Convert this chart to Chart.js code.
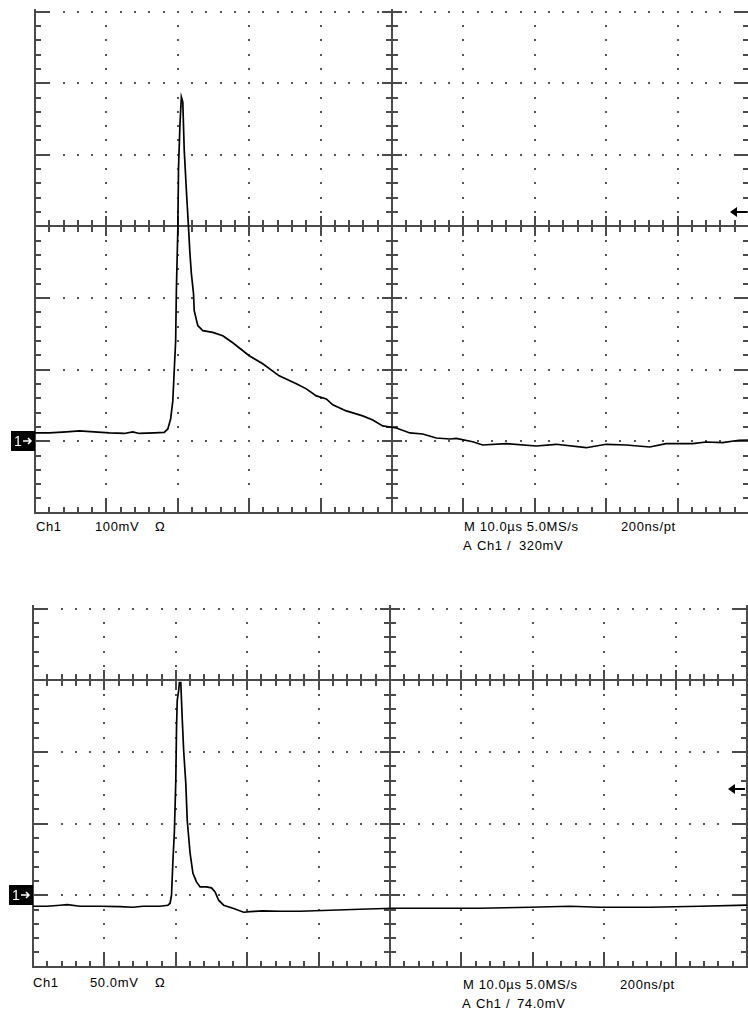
<!DOCTYPE html>
<html>
<head>
<meta charset="utf-8">
<script src="https://cdn.jsdelivr.net/npm/chart.js@4/dist/chart.umd.min.js"></script>
<style>
  html, body { margin: 0; padding: 0; background: #fff; }
  body { width: 748px; height: 1010px; position: relative; overflow: hidden; }
  .shot { position: absolute; left: 0; width: 748px; overflow: hidden; }
  .shot canvas { position: absolute; left: 0; }
  .lbl { position: absolute; font: 13px "Liberation Sans", Arial, sans-serif; letter-spacing: 0.6px; line-height: 14px; color: #000; white-space: pre; }
</style>
</head>
<body>
<div class="shot" id="shot1"><canvas id="scope1"></canvas></div>
<div class="shot" id="shot2"><canvas id="scope2"></canvas></div>

<!-- readout, upper capture -->
<div class="lbl" style="left:36px;top:520px">Ch1</div>
<div class="lbl" style="left:95px;top:520px">100mV</div>
<div class="lbl" style="left:155px;top:520px">Ω</div>
<div class="lbl" style="left:464px;top:520px">M 10.0µs 5.0MS/s</div>
<div class="lbl" style="left:621px;top:520px">200ns/pt</div>
<div class="lbl" style="left:463px;top:539px">A</div>
<div class="lbl" style="left:477px;top:539px">Ch1</div>
<div class="lbl" style="left:507px;top:539px">/</div>
<div class="lbl" style="left:519px;top:539px">320mV</div>

<!-- readout, lower capture -->
<div class="lbl" style="left:33px;top:976px">Ch1</div>
<div class="lbl" style="left:90px;top:976px">50.0mV</div>
<div class="lbl" style="left:155px;top:976px">Ω</div>
<div class="lbl" style="left:463px;top:978px">M 10.0µs 5.0MS/s</div>
<div class="lbl" style="left:620px;top:978px">200ns/pt</div>
<div class="lbl" style="left:462px;top:997px">A</div>
<div class="lbl" style="left:476px;top:997px">Ch1</div>
<div class="lbl" style="left:506px;top:997px">/</div>
<div class="lbl" style="left:517px;top:997px">74.0mV</div>

<script>
// ---------- TRACE DATA (time in µs, amplitude in mV) ----------

const topTime = [0, 2.0, 4.4, 6.2, 8.3, 10.4, 12.5, 13.7, 14.6, 16.7, 18.1, 18.6, 19.0, 19.3, 19.5,
  19.7, 19.8, 20.0, 20.1, 20.3, 20.5, 20.7, 20.9, 21.2, 21.5, 21.7, 21.9, 22.2, 22.3, 22.8,
  23.5, 24.9, 26.3, 27.7, 30.0, 31.9, 34.2, 36.6, 38.0, 39.4, 40.8, 41.7, 43.6, 45.9, 47.3,
  48.7, 50.6, 52.5, 54.3, 56.2, 58.1, 59.0, 61.3, 62.7, 66.0, 70.2, 73.0, 77.2, 80.0, 82.8,
  86.1, 88.4, 92.1, 94.0, 96.3, 98.6, 100];
const topMv = [11.5, 11.5, 12.9, 14.3, 12.9, 11.5, 10.8, 12.9, 10.8, 11.5, 12.2, 17.1, 31.1, 56.3, 98.3,
  140.3, 210.4, 294.4, 381.2, 441.5, 480.7, 473.7, 406.5, 350.5, 298.6, 262.2, 234.2, 206.2, 182.4, 161.4,
  154.4, 152.0, 147.3, 137.5, 119.3, 108.1, 91.3, 80.1, 73.1, 63.3, 59.1, 50.7, 42.3, 35.3, 29.7,
  21.3, 18.5, 11.5, 10.1, 4.5, 3.1, 3.8, -0.7, -5.3, -3.5, -6.7, -4.3, -9.1, -4.3, -5.3,
  -8.1, -3.5, -3.5, -1.1, -2.1, 1.3, 1.7];

const botTime = [0, 2.0, 3.8, 4.8, 6.6, 9.4, 12.2, 14.0, 15.4, 17.8, 18.9, 19.2, 19.4, 19.6, 19.8,
  20.0, 20.1, 20.2, 20.4, 20.5, 20.7, 20.8, 20.9, 21.1, 21.4, 21.6, 22.0, 22.4, 22.9, 23.4,
  24.3, 25.0, 25.5, 26.0, 26.7, 28.1, 29.5, 30.4, 32.2, 34.6, 37.4, 41.6, 45.8, 50.4, 55.6,
  62.6, 69.6, 75.2, 79.4, 86.4, 93.4, 100];
const botMv = [-7.7, -7.7, -7.0, -6.6, -7.7, -7.7, -8.0, -8.4, -7.7, -7.7, -7.0, -5.6, 0, 24.4, 43.9,
  80.2, 116.5, 136.0, 143.0, 148.5, 148.5, 136.0, 123.4, 101.1, 78.1, 52.3, 29.3, 15.3, 9.3, 5.8,
  5.8, 5.1, 2.3, -3.5, -7.0, -9.3, -11.9, -11.5, -10.9, -11.2, -11.2, -10.5, -9.8, -9.1, -9.1,
  -9.1, -8.4, -7.7, -8.4, -8.4, -7.7, -7.0];

// vertical settings per capture
const topScale = 100;   // mV/div
const botScale = 50;
const topTrigger = 320; // mV
const botTrigger = 74;

const DIV_X = 10, DIV_Y = 8, SUB = 5;
const GND_DIV = 1;      // ground sits one division above the bottom edge

// ---------- GRATICULE PLUGIN ----------

const graticule = {
  id: 'graticule',
  beforeDatasetsDraw(chart) {
    const { ctx, scales: { x, y } } = chart;
    const per = chart.options.plugins.graticule.mvPerDiv;
    const xs = [], ys = [];
    for (let i = 0; i <= DIV_X * SUB; i++) xs.push(Math.round(x.getPixelForValue(i * 100 / (DIV_X * SUB))));
    for (let j = 0; j <= DIV_Y * SUB; j++) ys.push(Math.round(y.getPixelForValue(y.min + j * per / SUB)));
    const L = xs[0], R = xs[xs.length - 1];
    const B = ys[0], T = ys[ys.length - 1];
    const cx = xs[DIV_X * SUB / 2], cy = ys[DIV_Y * SUB / 2];

    ctx.save();
    // dotted division lines
    ctx.fillStyle = '#555';
    for (let i = SUB; i < DIV_X * SUB; i += SUB) {
      if (xs[i] === cx) continue;
      for (let j = 2; j < DIV_Y * SUB - 1; j++) ctx.fillRect(xs[i] - 1, ys[j] - 1, 2, 2);
    }
    for (let j = SUB; j < DIV_Y * SUB; j += SUB) {
      if (ys[j] === cy) continue;
      for (let i = 2; i < DIV_X * SUB - 1; i++) ctx.fillRect(xs[i] - 1, ys[j] - 1, 2, 2);
    }

    ctx.strokeStyle = '#4a4a4a';
    ctx.lineWidth = 2;
    ctx.beginPath();
    // centre cross
    ctx.moveTo(L, cy); ctx.lineTo(R, cy);
    ctx.moveTo(cx, B); ctx.lineTo(cx, T);
    for (let i = 1; i < DIV_X * SUB; i++) {
      const h = i % SUB === 0 ? 10 : 6;
      ctx.moveTo(xs[i], cy - h); ctx.lineTo(xs[i], cy + h);
      // bottom and top border ticks
      const t = i % SUB === 0 ? 15 : 6;
      ctx.moveTo(xs[i], B); ctx.lineTo(xs[i], B - t);
      ctx.moveTo(xs[i], T); ctx.lineTo(xs[i], T + t);
    }
    for (let j = 1; j < DIV_Y * SUB; j++) {
      const h = j % SUB === 0 ? 10 : 6;
      ctx.moveTo(cx - h, ys[j]); ctx.lineTo(cx + h, ys[j]);
      const t = j % SUB === 0 ? 15 : 6;
      ctx.moveTo(L, ys[j]); ctx.lineTo(L + t, ys[j]);
      ctx.moveTo(R, ys[j]); ctx.lineTo(R - t, ys[j]);
    }
    ctx.stroke();
    ctx.strokeRect(L, T, R - L, B - T);
    ctx.restore();
  },
  afterDraw(chart) {
    const { ctx, chartArea: a, scales: { y } } = chart;
    const trig = chart.options.plugins.graticule.trigger;
    ctx.save();
    // ground reference marker "1→"
    const g = Math.round(y.getPixelForValue(0));
    const bx = Math.round(a.left) - 24;
    ctx.fillStyle = '#000';
    ctx.fillRect(bx, g - 10, 24, 20);
    ctx.fillStyle = '#fff';
    ctx.font = '14px "Liberation Sans", Arial, sans-serif';
    ctx.textBaseline = 'middle';
    ctx.fillText('1', bx + 3, g + 1);
    ctx.strokeStyle = '#fff';
    ctx.lineWidth = 1.5;
    ctx.beginPath();
    ctx.moveTo(bx + 12, g); ctx.lineTo(bx + 20, g);
    ctx.moveTo(bx + 17, g - 3); ctx.lineTo(bx + 20, g); ctx.lineTo(bx + 17, g + 3);
    ctx.stroke();

    // trigger level arrow on the right edge
    const t = Math.round(y.getPixelForValue(trig));
    const r = Math.round(a.right);
    ctx.strokeStyle = '#000';
    ctx.fillStyle = '#000';
    ctx.lineWidth = 2;
    ctx.beginPath();
    ctx.moveTo(r - 2, t); ctx.lineTo(r - 14, t);
    ctx.stroke();
    ctx.beginPath();
    ctx.moveTo(r - 19, t); ctx.lineTo(r - 12, t - 5); ctx.lineTo(r - 12, t + 5);
    ctx.closePath();
    ctx.fill();
    ctx.restore();
  }
};

// ---------- SCOPE SCREENS ----------

function makeScope(canvasId, shotId, cfg) {
  const pad = 14, W = 770;
  const areaH = cfg.ydiv * DIV_Y;
  const H = Math.ceil(areaH + pad * 2);
  const canvas = document.getElementById(canvasId);
  canvas.width = W;
  canvas.height = H;
  const canvasTop = cfg.centerY - areaH / 2 - pad;
  const shot = document.getElementById(shotId);
  shot.style.top = cfg.cropTop + 'px';
  shot.style.height = (cfg.cropBottom - cfg.cropTop) + 'px';
  canvas.style.top = (canvasTop - cfg.cropTop) + 'px';

  new Chart(canvas, {
    type: 'line',
    data: {
      datasets: [{
        data: cfg.time.map((t, i) => ({ x: t, y: cfg.mv[i] })),
        borderColor: '#000',
        borderWidth: 1.7,
        pointRadius: 0,
        tension: 0
      }]
    },
    options: {
      responsive: false,
      animation: false,
      events: [],
      layout: {
        padding: { left: cfg.left, right: W - cfg.left - cfg.xdiv * DIV_X, top: pad, bottom: H - pad - areaH }
      },
      scales: {
        x: { type: 'linear', min: 0, max: 100, display: false },
        y: { min: -GND_DIV * cfg.mvPerDiv, max: (DIV_Y - GND_DIV) * cfg.mvPerDiv, display: false }
      },
      plugins: {
        legend: { display: false },
        tooltip: { enabled: false },
        graticule: { mvPerDiv: cfg.mvPerDiv, trigger: cfg.trigger }
      }
    },
    plugins: [graticule]
  });
}

makeScope('scope1', 'shot1', {
  time: topTime, mv: topMv, mvPerDiv: topScale, trigger: topTrigger,
  left: 35, xdiv: 71.4, centerY: 226, ydiv: 71.6, cropTop: 9, cropBottom: 515
});

makeScope('scope2', 'shot2', {
  time: botTime, mv: botMv, mvPerDiv: botScale, trigger: botTrigger,
  left: 33, xdiv: 71.4, centerY: 680, ydiv: 71.6, cropTop: 605, cropBottom: 969
});
</script>
</body>
</html>
